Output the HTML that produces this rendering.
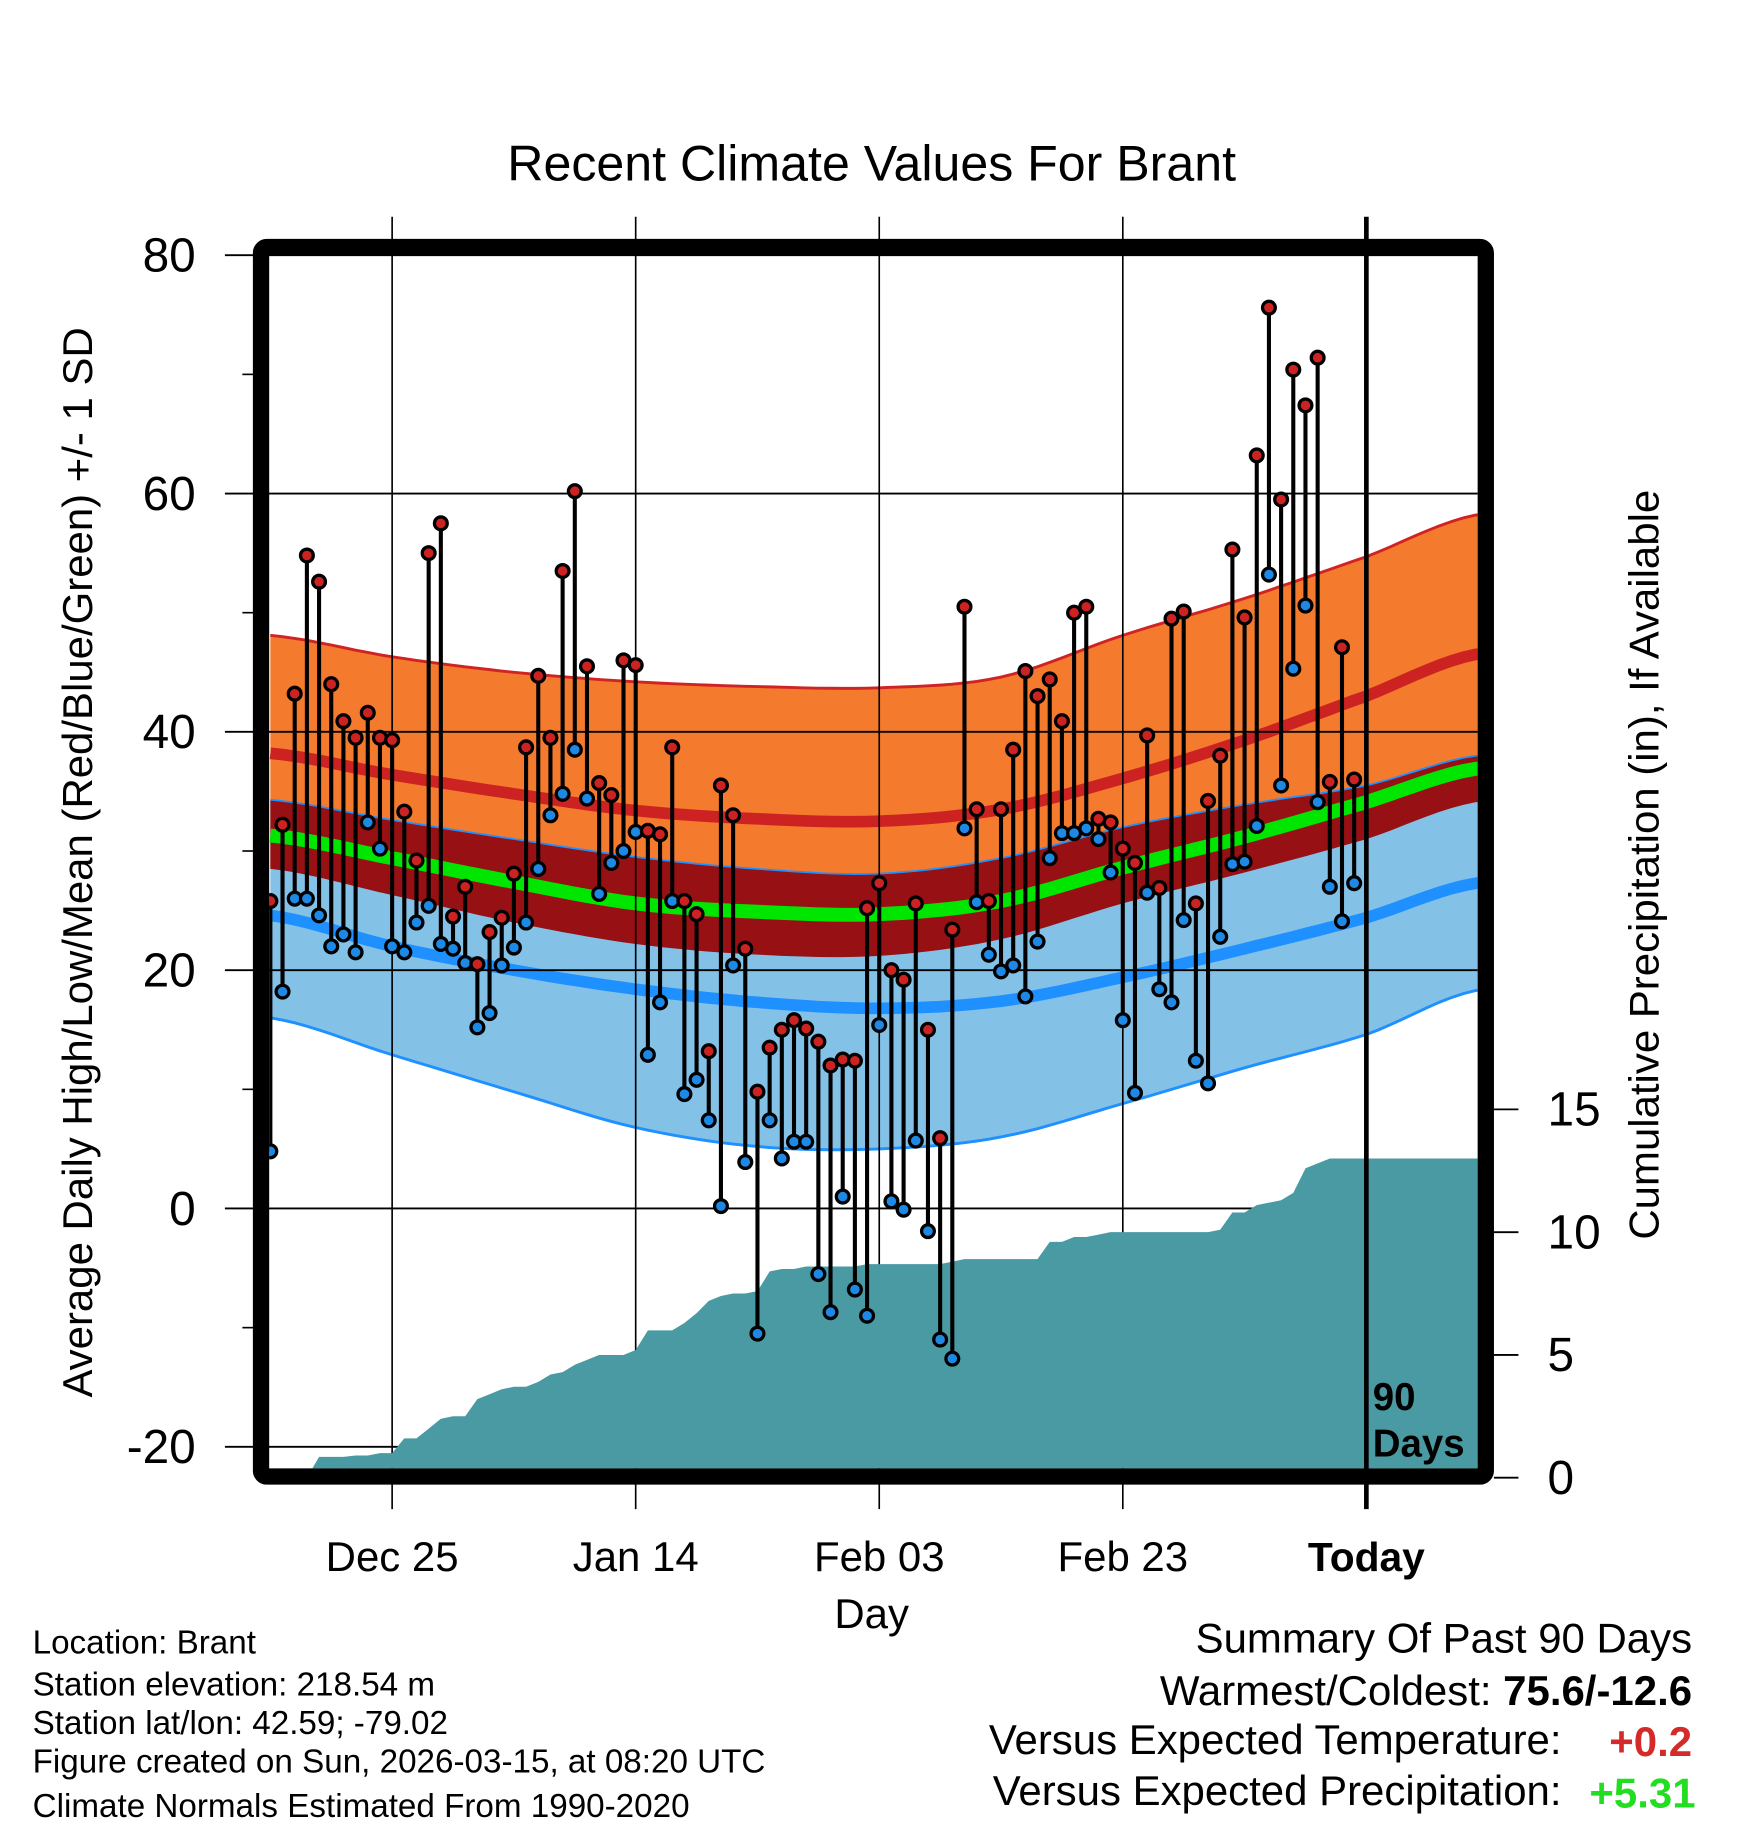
<!DOCTYPE html>
<html><head><meta charset="utf-8"><style>
html,body{margin:0;padding:0;background:#fff;}
svg{display:block;font-family:"Liberation Sans",sans-serif;}
</style></head><body>
<svg id="chart" width="1748" height="1828" viewBox="0 0 1500 1568.6" preserveAspectRatio="none" xmlns="http://www.w3.org/2000/svg">
<defs><clipPath id="plotclip"><rect x="231" y="219" width="1037" height="1041"/></clipPath></defs>
<text x="748" y="155" font-size="43" text-anchor="middle">Recent Climate Values For Brant</text>
<g id="bands" clip-path="url(#plotclip)"></g>
<g id="grid"></g>
<g id="precip" clip-path="url(#plotclip)"></g>
<g id="marks" clip-path="url(#plotclip)"></g>
<rect x="224" y="212" width="1051" height="1055" rx="5" fill="none" stroke="#000" stroke-width="14"/>
<g id="axes"></g>
<text x="1178" y="1210" font-size="33" font-weight="bold">90</text>
<text x="1178" y="1250" font-size="33" font-weight="bold">Days</text>
<text transform="translate(79,740) rotate(-90)" font-size="36" text-anchor="middle">Average Daily High/Low/Mean (Red/Blue/Green) +/- 1 SD</text>
<text transform="translate(1423,742) rotate(-90)" font-size="36" text-anchor="middle">Cumulative Precipitation (in), If Available</text>
<text x="748" y="1397" font-size="36" text-anchor="middle">Day</text>
<g font-size="28.5">
<text x="28" y="1419">Location: Brant</text>
<text x="28" y="1455">Station elevation: 218.54 m</text>
<text x="28" y="1488">Station lat/lon: 42.59; -79.02</text>
<text x="28" y="1521">Figure created on Sun, 2026-03-15, at 08:20 UTC</text>
<text x="28" y="1559">Climate Normals Estimated From 1990-2020</text>
</g>
<g font-size="36">
<text x="1452" y="1418" text-anchor="end">Summary Of Past 90 Days</text>
<text x="1452" y="1463" text-anchor="end">Warmest/Coldest: <tspan font-weight="bold">75.6/-12.6</tspan></text>
<text x="1340" y="1505" text-anchor="end">Versus Expected Temperature:</text>
<text x="1452" y="1507" text-anchor="end" font-weight="bold" fill="#d42a2a">+0.2</text>
<text x="1340" y="1549" text-anchor="end">Versus Expected Precipitation:</text>
<text x="1455" y="1551" text-anchor="end" font-weight="bold" fill="#22dd22">+5.31</text>
</g>
</svg>
<script>
const normIdx=[0,10,20,30,40,50,60,70,80,90,99];
const highPlus=[48.1,46.3,45.0,44.2,43.8,43.7,44.6,48.1,51.2,54.7,58.2];
const highMean=[38.2,36.4,34.8,33.4,32.7,32.5,33.5,36.1,39.3,43.0,46.5];
const lowPlus=[34.3,32.6,31.0,29.5,28.5,28.1,29.4,32.0,33.9,35.5,38.0];
const meanT=[31.3,29.4,27.4,25.6,24.9,24.7,25.8,28.6,31.2,34.1,36.9];
const highMinus=[28.5,26.3,24.0,22.2,21.3,21.2,22.6,25.6,28.2,31.0,34.1];
const lowMean=[24.6,22.0,20.0,18.4,17.3,16.8,17.4,19.4,21.8,24.4,27.3];
const lowMinus=[16.0,12.9,9.8,6.8,5.2,5.0,6.0,8.8,11.8,14.6,18.3];
const highs=[25.8,32.2,43.2,54.8,52.6,44,40.9,39.5,41.6,39.5,39.3,33.3,29.2,55,57.5,24.5,27,20.5,23.2,24.4,28.1,38.7,44.7,39.5,53.5,60.2,45.5,35.7,34.7,46,45.6,31.7,31.4,38.7,25.8,24.7,13.2,35.5,33,21.8,9.8,13.5,15,15.8,15.1,14,12,12.5,12.4,25.2,27.3,20,19.2,25.6,15,5.9,23.4,50.5,33.5,25.8,33.5,38.5,45.1,43,44.4,40.9,50,50.5,32.7,32.4,30.2,29,39.7,26.9,49.5,50.1,25.6,34.2,38,55.3,49.6,63.2,75.6,59.5,70.4,67.4,71.4,35.8,47.1,36];
const lows=[4.8,18.2,26,26,24.6,22,23,21.5,32.4,30.2,22,21.5,24,25.4,22.2,21.8,20.6,15.2,16.4,20.4,21.9,24,28.5,33,34.8,38.5,34.4,26.4,29,30,31.6,12.9,17.3,25.8,9.6,10.8,7.4,0.2,20.4,3.9,-10.5,7.4,4.2,5.6,5.6,-5.5,-8.7,1,-6.8,-9,15.4,0.6,-0.1,5.7,-1.9,-11,-12.6,31.9,25.7,21.3,19.9,20.4,17.8,22.4,29.4,31.5,31.5,31.9,31,28.2,15.8,9.7,26.5,18.4,17.3,24.2,12.4,10.5,22.8,28.9,29.1,32.1,53.2,35.5,45.3,50.6,34.1,27,24.1,27.3];
const precip=[0,0,0,0,0.85,0.85,0.85,0.9,0.9,1.0,1.0,1.6,1.6,2.0,2.4,2.5,2.5,3.2,3.4,3.6,3.7,3.7,3.9,4.2,4.3,4.6,4.8,5.0,5.0,5.0,5.2,6.0,6.0,6.0,6.3,6.7,7.2,7.4,7.5,7.5,7.6,8.4,8.5,8.5,8.6,8.6,8.6,8.6,8.6,8.7,8.7,8.7,8.7,8.7,8.7,8.7,8.8,8.9,8.9,8.9,8.9,8.9,8.9,8.9,9.6,9.6,9.8,9.8,9.9,10.0,10.0,10.0,10.0,10.0,10.0,10.0,10.0,10.0,10.1,10.8,10.8,11.1,11.2,11.3,11.6,12.6,12.8,13.0,13.0,13.0];
const yTicks=[80,60,40,20,0,-20];
const yMinor=[70,50,30,10,-10];
const pTicks=[0,5,10,15];
const xTickIdx=[10,30,50,70,90];
const xTickLabels=["Dec 25","Jan 14","Feb 03","Feb 23","Today"];

const NS="http://www.w3.org/2000/svg";
const X=i=>232+10.45*i;
const Y=v=>1037-10.225*v;
const P=p=>1268-21.07*p;
function mk(tag,attrs,parent){const e=document.createElementNS(NS,tag);for(const k in attrs)e.setAttribute(k,attrs[k]);parent.appendChild(e);return e;}
function curvePts(vals){const pts=[];for(let t=0;t<=101;t+=1){let k=0;while(k<normIdx.length-2&&t>normIdx[k+1])k++;
 const i0=Math.max(k-1,0),i1=k,i2=k+1,i3=Math.min(k+2,normIdx.length-1);
 const u=Math.min(1,Math.max(0,(t-normIdx[i1])/(normIdx[i2]-normIdx[i1])));
 const p0=vals[i0],p1=vals[i1],p2=vals[i2],p3=vals[i3];
 const v=0.5*((2*p1)+(-p0+p2)*u+(2*p0-5*p1+4*p2-p3)*u*u+(-p0+3*p1-3*p2+p3)*u*u*u);
 pts.push([X(t),Y(v)]);}return pts;}
const str=pts=>pts.map(p=>p[0].toFixed(1)+","+p[1].toFixed(1)).join(" ");
function band(a,b,fill,name){const pa=curvePts(a),pb=curvePts(b).reverse();const e=mk('polygon',{points:str(pa.concat(pb)),fill:fill},document.getElementById('bands'));

}
function line(a,color,w,name){const e=mk('polyline',{points:str(curvePts(a)),fill:'none',stroke:color,'stroke-width':w},document.getElementById('bands'));

}
band(highPlus,highMinus,'#f47a2d','high-sd-band');
band(lowPlus,lowMinus,'#84c1e7','low-sd-band');
band(lowPlus,highMinus,'#961014','overlap-band');
line(lowPlus,'#1e90ff',1.5,'low-plus-sd-line');
line(lowMinus,'#1e90ff',2.5,'low-minus-sd-line');
line(highPlus,'#d02424',2.5,'high-plus-sd-line');
line(highMean,'#cc2222',10,'normal-high-line');
line(lowMean,'#1e90ff',10,'normal-low-line');
line(meanT,'#00e600',12,'normal-mean-line');

const grid=document.getElementById('grid'),axes=document.getElementById('axes');
yTicks.forEach(v=>{const g=mk('line',{x1:193,x2:1268,y1:Y(v),y2:Y(v),stroke:'#000','stroke-width':1.6},grid);


const t=mk('text',{x:168,y:Y(v)+14,'font-size':41,'text-anchor':'end'},axes);t.textContent=v;

});
yMinor.forEach(v=>{const g=mk('line',{x1:208,x2:218,y1:Y(v),y2:Y(v),stroke:'#000','stroke-width':1.4},axes);

});
xTickIdx.forEach((d,k)=>{const today=k===xTickIdx.length-1;
const g=mk('line',{x1:X(d),x2:X(d),y1:186,y2:1295,stroke:'#000','stroke-width':today?4:1.4},today?axes:grid);


const t=mk('text',{x:X(d),y:1348,'font-size':today?35:36,'text-anchor':'middle','font-weight':today?'bold':'normal'},axes);t.textContent=xTickLabels[k];

});
pTicks.forEach(p=>{const g=mk('line',{x1:1282,x2:1303,y1:P(p),y2:P(p),stroke:'#000','stroke-width':1.6},axes);


const t=mk('text',{x:1328,y:P(p)+14,'font-size':41},axes);t.textContent=p;

});

const pp=[[X(0),1262]];precip.forEach((p,i)=>pp.push([X(i),P(p)]));
pp.push([1270,P(precip[precip.length-1])]);pp.push([1270,1262]);
const pe=mk('polygon',{points:str(pp),fill:'#4a9aa3'},document.getElementById('precip'));



const marks=document.getElementById('marks');
highs.forEach((h,i)=>{const l=lows[i];
const s=mk('line',{x1:X(i),x2:X(i),y1:Y(h),y2:Y(l),stroke:'#000','stroke-width':3.5},marks);


const c1=mk('circle',{cx:X(i),cy:Y(l),r:5.5,fill:'#1e88e5',stroke:'#000','stroke-width':2.8},marks);


const c2=mk('circle',{cx:X(i),cy:Y(h),r:5.5,fill:'#cc2222',stroke:'#000','stroke-width':2.8},marks);

});
</script>
</body></html>
